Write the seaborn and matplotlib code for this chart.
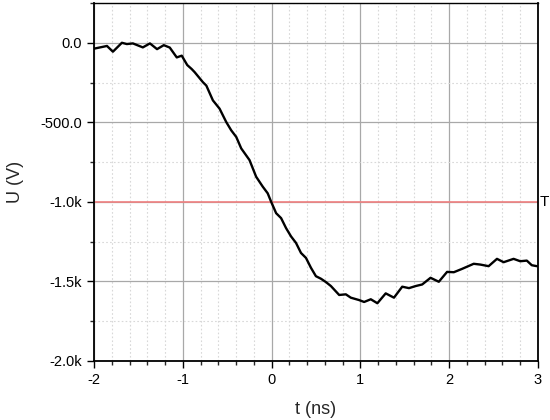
import matplotlib
matplotlib.use("Agg")
import matplotlib.pyplot as plt
import seaborn as sns
import pandas as pd
from matplotlib.ticker import MultipleLocator, FixedLocator, FuncFormatter

t_ns = [-2.0, -1.854, -1.787, -1.686, -1.63, -1.562, -1.45, -1.37, -1.29, -1.214,
        -1.147, -1.068, -1.012, -0.95, -0.9, -0.866, -0.773, -0.735, -0.661, -0.586,
        -0.511, -0.455, -0.398, -0.342, -0.249, -0.174, -0.100, -0.044, -0.006, 0.051,
        0.107, 0.163, 0.219, 0.275, 0.331, 0.387, 0.443, 0.499, 0.556, 0.612,
        0.668, 0.761, 0.836, 0.892, 0.985, 1.042, 1.117, 1.191, 1.285, 1.378,
        1.471, 1.547, 1.622, 1.696, 1.790, 1.883, 1.976, 2.052, 2.145, 2.276,
        2.351, 2.444, 2.538, 2.613, 2.725, 2.800, 2.874, 2.930, 2.987]
u_v = [-37, -20, -56, 0, -8, -4, -29, -4, -40, -15,
       -30, -92, -81, -140, -165, -185, -248, -269, -362, -414,
       -498, -550, -592, -664, -737, -842, -904, -946, -998, -1071,
       -1102, -1165, -1217, -1258, -1321, -1352, -1414, -1467, -1483, -1504,
       -1529, -1585, -1581, -1602, -1617, -1629, -1612, -1637, -1575, -1602,
       -1533, -1542, -1529, -1519, -1477, -1502, -1440, -1442, -1421, -1389,
       -1394, -1404, -1358, -1379, -1358, -1373, -1369, -1398, -1404]
threshold = -1000
y_ticks = [0, -500, -1000, -1500, -2000]
y_tick_labels = ["0.0", "-500.0", "-1.0k", "-1.5k", "-2.0k"]

sns.set_style("ticks")
plt.rcParams['font.family'] = ['Liberation Sans', 'DejaVu Sans']

df = pd.DataFrame({"t": t_ns, "u": u_v})

fig = plt.figure(figsize=(5.5, 4.2), dpi=100)
ax = fig.add_axes([94/550, 1-361/420, (538-94)/550, (361-3)/420])

ax.set_xlim(-2, 3)
ax.set_ylim(-2000, 250)
ax.xaxis.set_major_locator(MultipleLocator(1))
ax.xaxis.set_minor_locator(MultipleLocator(0.2))
ax.yaxis.set_major_locator(FixedLocator(y_ticks))
ax.yaxis.set_minor_locator(MultipleLocator(250))
ax.yaxis.set_major_formatter(FuncFormatter(
    lambda v, p: y_tick_labels[y_ticks.index(int(round(v)))] if int(round(v)) in y_ticks else ""))
ax.xaxis.set_major_formatter(FuncFormatter(lambda v, p: f"{int(round(v))}"))

ax.grid(which="major", color="#a8a8a8", linewidth=0.9, linestyle="-")
ax.grid(which="minor", color="#d8d8d8", linewidth=0.8, linestyle=(0, (1.5, 2)))
ax.set_axisbelow(True)

ax.axhline(threshold, color="#f08080", linewidth=1.2, zorder=2)
ax.text(1.003, threshold, "T", transform=ax.get_yaxis_transform(),
        ha="left", va="center", fontsize=11, color="black")

sns.lineplot(data=df, x="t", y="u", ax=ax, color="black", linewidth=1.7, sort=False, zorder=3)

for s in ax.spines.values():
    s.set_color("black")
    s.set_linewidth(1.3)
ax.spines["top"].set_linewidth(1.0)

ax.tick_params(which="major", direction="out", length=5, width=1.0, labelsize=10.5, colors="black")
ax.tick_params(which="minor", direction="out", length=3, width=1.0)
ax.set_xlabel("t (ns)", fontsize=13, labelpad=10)
ax.set_ylabel("U (V)", fontsize=13, labelpad=12)

fig.savefig("out.png", dpi=100)
